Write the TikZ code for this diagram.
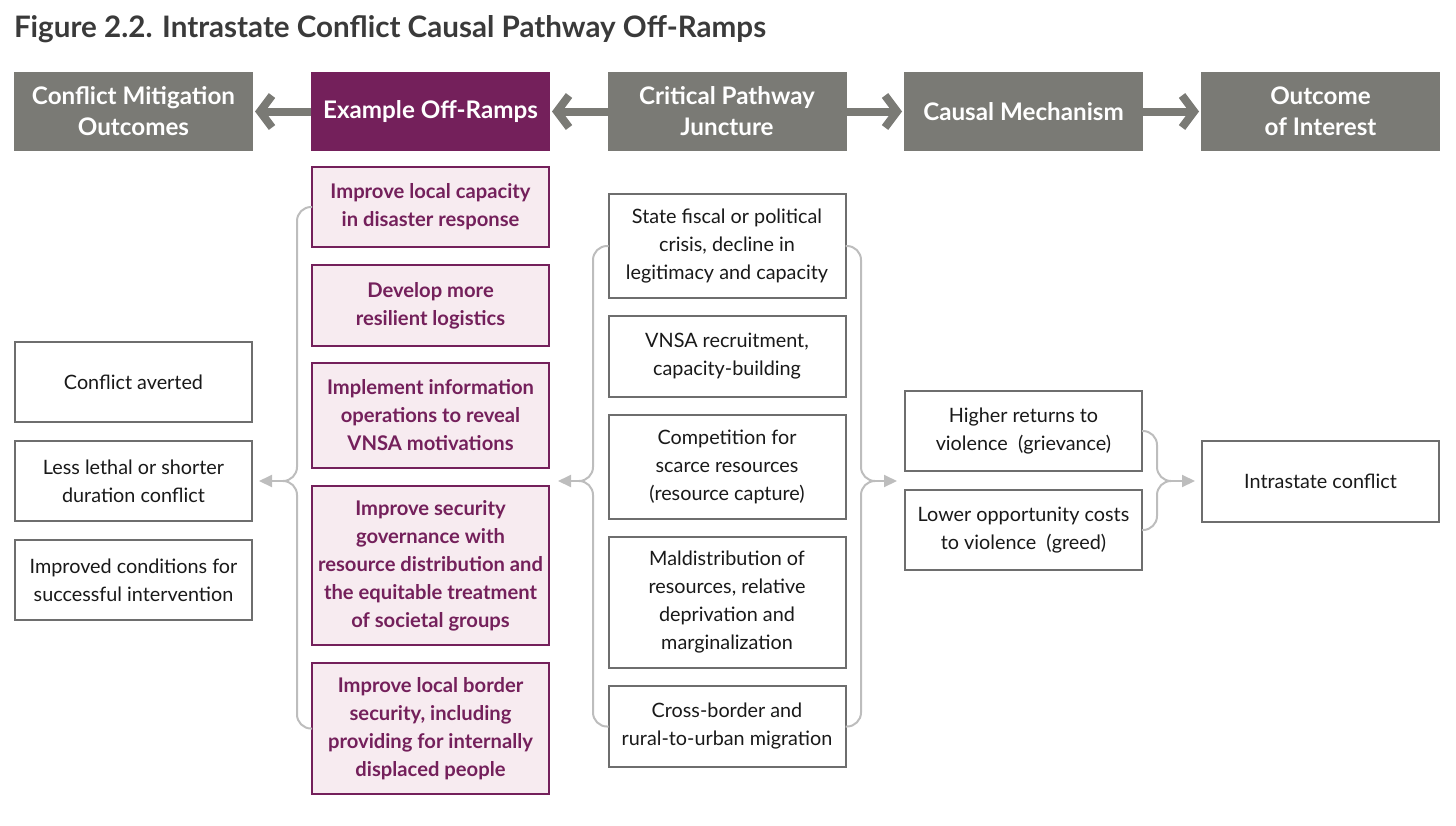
\documentclass[tikz,border=0pt]{standalone}
\usepackage{fontspec}
\setmainfont{Lato}
\usetikzlibrary{arrows.meta}
\definecolor{hdrgray}{HTML}{7A7A75}
\definecolor{rampurple}{HTML}{74205B}
\definecolor{rampink}{HTML}{F7EBF0}
\definecolor{boxgray}{HTML}{6E6E6E}
\definecolor{bracegray}{HTML}{BDBDBD}
\definecolor{titlegray}{HTML}{3A3A3A}
\begin{document}
\begin{tikzpicture}[x=0.5pt,y=-0.5pt,inner sep=0pt,outer sep=0pt,
hdr/.style={fill=hdrgray,text=white,minimum width=119.5pt,minimum height=39.5pt,align=center,font=\fontsize{12.1pt}{15.5pt}\selectfont\bfseries},
hdrramp/.style={hdr,fill=rampurple},
outbox/.style={draw=boxgray,line width=1pt,fill=white,minimum width=118.5pt,align=center,text=black!90,font=\fontsize{9.9pt}{14pt}\selectfont},
rampbox/.style={outbox,draw=rampurple,fill=rampink,text=rampurple,font=\fontsize{10.1pt}{14pt}\selectfont\bfseries},
harrow/.style={draw=hdrgray,line width=4pt,-{Straight Barb[length=6pt,width=16pt]},shorten >=1pt},
brace/.style={draw=bracegray,line width=1pt,rounded corners=7pt},
barrow/.style={draw=bracegray,line width=1pt,-{Triangle[length=6.5pt,width=6pt]}}]

\useasboundingbox (0,0) rectangle (1456,825);
\draw (14,37) node[anchor=base west,text=titlegray,font=\fontsize{14.8pt}{16pt}\selectfont\bfseries] (title) {Figure 2.2. Intrastate Conflict Causal Pathway Off-Ramps};

\draw (133.5,111.5) node[hdr] (hMit) {Conflict Mitigation\\Outcomes};
\draw (430.5,111.5) node[hdrramp] (hRamp) {Example Off-Ramps};
\draw (727,111.5) node[hdr] (hJunc) {Critical Pathway\\Juncture};
\draw (1023.5,111.5) node[hdr] (hMech) {Causal Mechanism};
\draw (1320.5,111.5) node[hdr] (hOut) {Outcome\\of Interest};
\draw[harrow] (hRamp.west) -- (hMit.east);
\draw[harrow] (hJunc.west) -- (hRamp.east);
\draw[harrow] (hJunc.east) -- (hMech.west);
\draw[harrow] (hMech.east) -- (hOut.west);

\draw (133.5,382) node[outbox,minimum height=40pt] (mit1) {Conflict averted};
\draw (133.5,481) node[outbox,minimum height=40pt] (mit2) {Less lethal or shorter\\duration conflict};
\draw (133.5,580) node[outbox,minimum height=40pt] (mit3) {Improved conditions for\\successful intervention};

\draw (430.5,207) node[rampbox,minimum height=40pt] (ramp1) {Improve local capacity\\in disaster response};
\draw (430.5,305.5) node[rampbox,minimum height=40.5pt] (ramp2) {Develop more\\resilient logistics};
\draw (430.5,415.5) node[rampbox,minimum height=52.5pt] (ramp3) {Implement information\\operations to reveal\\VNSA motivations};
\draw (430.5,565.5) node[rampbox,minimum height=79.5pt] (ramp4) {Improve security\\governance with\\resource distribution and\\the equitable treatment\\of societal groups};
\draw (430.5,728.5) node[rampbox,minimum height=65.5pt] (ramp5) {Improve local border\\security, including\\providing for internally\\displaced people};

\draw (727,246) node[outbox,minimum height=52pt] (junc1) {State fiscal or political\\crisis, decline in\\legitimacy and capacity};
\draw (727,356.5) node[outbox,minimum height=40.5pt] (junc2) {VNSA recruitment,\\capacity-building};
\draw (727,467) node[outbox,minimum height=52pt] (junc3) {Competition for\\scarce resources\\(resource capture)};
\draw (727,602.5) node[outbox,minimum height=65.5pt] (junc4) {Maldistribution of\\resources, relative\\deprivation and\\marginalization};
\draw (727,726.5) node[outbox,minimum height=40.5pt] (junc5) {Cross-border and\\rural-to-urban migration};

\draw (1023.5,431) node[outbox,minimum height=40pt] (mech1) {Higher returns to\\violence~ (grievance)};
\draw (1023.5,530) node[outbox,minimum height=40pt] (mech2) {Lower opportunity costs\\to violence~ (greed)};

\draw (1320.5,481) node[outbox,minimum height=40.5pt] (out1) {Intrastate conflict};

\coordinate (rampMid) at (297,481);
\coordinate (rampCusp) at (283,481);
\coordinate (juncMidL) at (593,481);
\coordinate (juncCuspL) at (579,481);
\coordinate (juncTipL) at (558,481);
\coordinate (juncMidR) at (861,481);
\coordinate (juncCuspR) at (875,481);
\coordinate (juncTipR) at (897,481);
\coordinate (mechMid) at (1157,481);
\coordinate (mechCusp) at (1171,481);

\draw[brace] (ramp1.west) -| (rampMid) -- (rampCusp);
\draw[brace] (ramp5.west) -| (rampMid) -- (rampCusp);
\draw[barrow,shorten >=3.5pt] (rampCusp) -- (mit2.east);
\draw[brace] (junc1.west) -| (juncMidL) -- (juncCuspL);
\draw[brace] (junc5.west) -| (juncMidL) -- (juncCuspL);
\draw[barrow] (juncCuspL) -- (juncTipL);
\draw[brace] (junc1.east) -| (juncMidR) -- (juncCuspR);
\draw[brace] (junc5.east) -| (juncMidR) -- (juncCuspR);
\draw[barrow] (juncCuspR) -- (juncTipR);
\draw[brace] (mech1.east) -| (mechMid) -- (mechCusp);
\draw[brace] (mech2.east) -| (mechMid) -- (mechCusp);
\draw[barrow,shorten >=3.5pt] (mechCusp) -- (out1.west);
\end{tikzpicture}
\end{document}
